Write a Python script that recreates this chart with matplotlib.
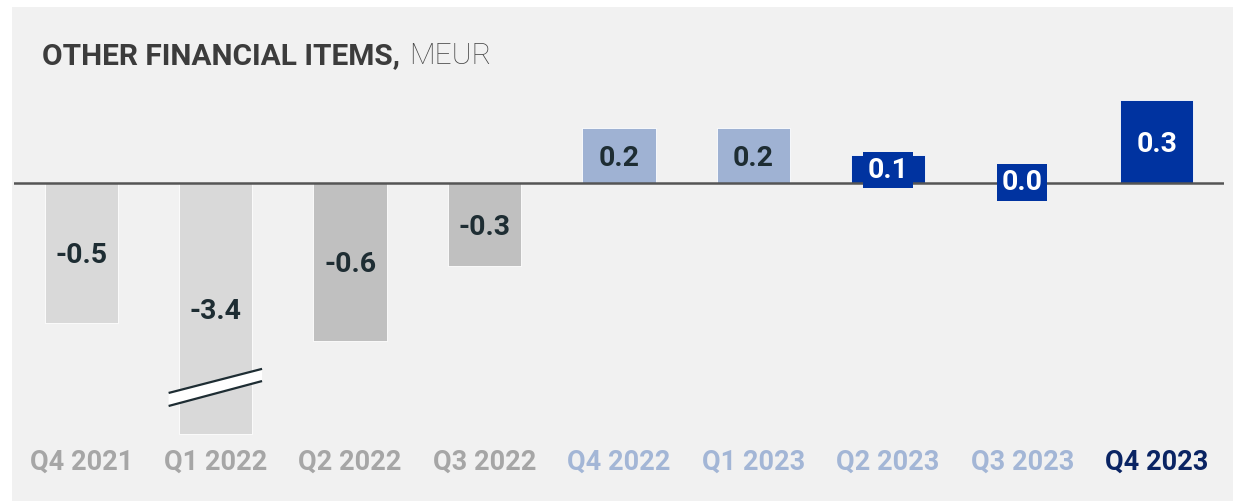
import matplotlib
matplotlib.use("Agg")
import matplotlib.pyplot as plt
from matplotlib.patches import Rectangle, Polygon

categories = ["Q4 2021", "Q1 2022", "Q2 2022", "Q3 2022", "Q4 2022",
              "Q1 2023", "Q2 2023", "Q3 2023", "Q4 2023"]
values = [-0.505, -3.4, -0.57, -0.30, 0.20, 0.20, 0.10, 0.0, 0.30]
labels = ["-0.5", "-3.4", "-0.6", "-0.3", "0.2", "0.2", "0.1", "0.0", "0.3"]
axis_break = -0.905  # bars below this value are cut (broken axis)

bar_colors = ["#d9d9d9", "#d9d9d9", "#c0c0c0", "#c0c0c0", "#9fb2d3",
              "#9fb2d3", "#0033a0", "#0033a0", "#0033a0"]
text_colors = ["#1e2d33"] * 6 + ["#ffffff"] * 3
tick_colors = ["#a6a6a6"] * 4 + ["#a3b6d6"] * 4 + ["#0a2463"]

W, H = 1235, 501
fig = plt.figure(figsize=(W / 100, H / 100), dpi=100)
fig.patch.set_facecolor("white")
fig.patches.append(Rectangle((12 / W, 0), (1233 - 12) / W, (501 - 7) / H,
                             transform=fig.transFigure, facecolor="#f1f1f1",
                             edgecolor="none", zorder=-10))

# axes: pixel x 14..1224, y 60..460 (from top)
ax_top, ax_bot = 60, 460
ax = fig.add_axes([14 / W, 1 - ax_bot / H, (1224 - 14) / W, (ax_bot - ax_top) / H])
ax.set_facecolor("none")
ax.set_zorder(1)
scale = 277.0
base = 183
ax.set_ylim((base - ax_bot) / scale, (base - ax_top) / scale)
ax.set_xlim(-0.5, 8.5)
for s in ax.spines.values():
    s.set_visible(False)
ax.set_yticks([])
ax.set_xticks([])

x = list(range(len(categories)))
shown = [max(v, axis_break) for v in values]
ax.bar(x, shown, width=0.545, color=bar_colors, edgecolor="white", linewidth=0.6, zorder=2)
ax.axhline(0, color="#555555", linewidth=1.8, zorder=3)

font = "Roboto"
dy = 3 / scale
for i, (h, lab) in enumerate(zip(shown, labels)):
    yc = h / 2 - dy
    kw = dict(ha="center", va="center", fontsize=20.5, fontweight="bold",
              color=text_colors[i], family=font, zorder=5)
    if abs(h) < 0.15 and bar_colors[i] == "#0033a0":
        yc = h / 2 - 1 / scale
        if h == 0:
            yc = 0.002
        kw["bbox"] = dict(boxstyle="square,pad=0.16", facecolor=bar_colors[i], edgecolor="none")
    ax.text(i, yc, lab, **kw)

# break marks on Q1 2022
bi = values.index(min(values))
top_l, top_r = -0.758, -0.671
bot_l, bot_r = -0.805, -0.715
x0, x1 = bi - 0.35, bi + 0.345
ax.add_patch(Polygon([(x0, top_l), (x1, top_r), (x1, bot_r), (x0, bot_l)],
                     closed=True, facecolor="white", edgecolor="none", zorder=4))
ax.plot([x0, x1], [top_l, top_r], color="#1e2d33", lw=1.6, zorder=4, solid_capstyle="butt")
ax.plot([x0, x1], [bot_l, bot_r], color="#1e2d33", lw=1.6, zorder=4, solid_capstyle="butt")

for i, (cat, c) in enumerate(zip(categories, tick_colors)):
    ax.text(i, (base - 462) / scale, cat, ha="center", va="center", fontsize=19.5,
            fontweight="bold", color=c, family=font, clip_on=False)

t1 = fig.text(42 / W, 1 - 64 / H, "OTHER FINANCIAL ITEMS,", fontsize=21.5,
              fontweight="bold", color="#3c3c3c", family=font, va="baseline")
fig.canvas.draw()
bb = t1.get_window_extent()
fig.text((bb.x1 + 9) / W, 1 - 64 / H, "MEUR", fontsize=21.5, fontweight="light",
         color="#454545", family=font, va="baseline")

fig.savefig("out.png", dpi=100)
